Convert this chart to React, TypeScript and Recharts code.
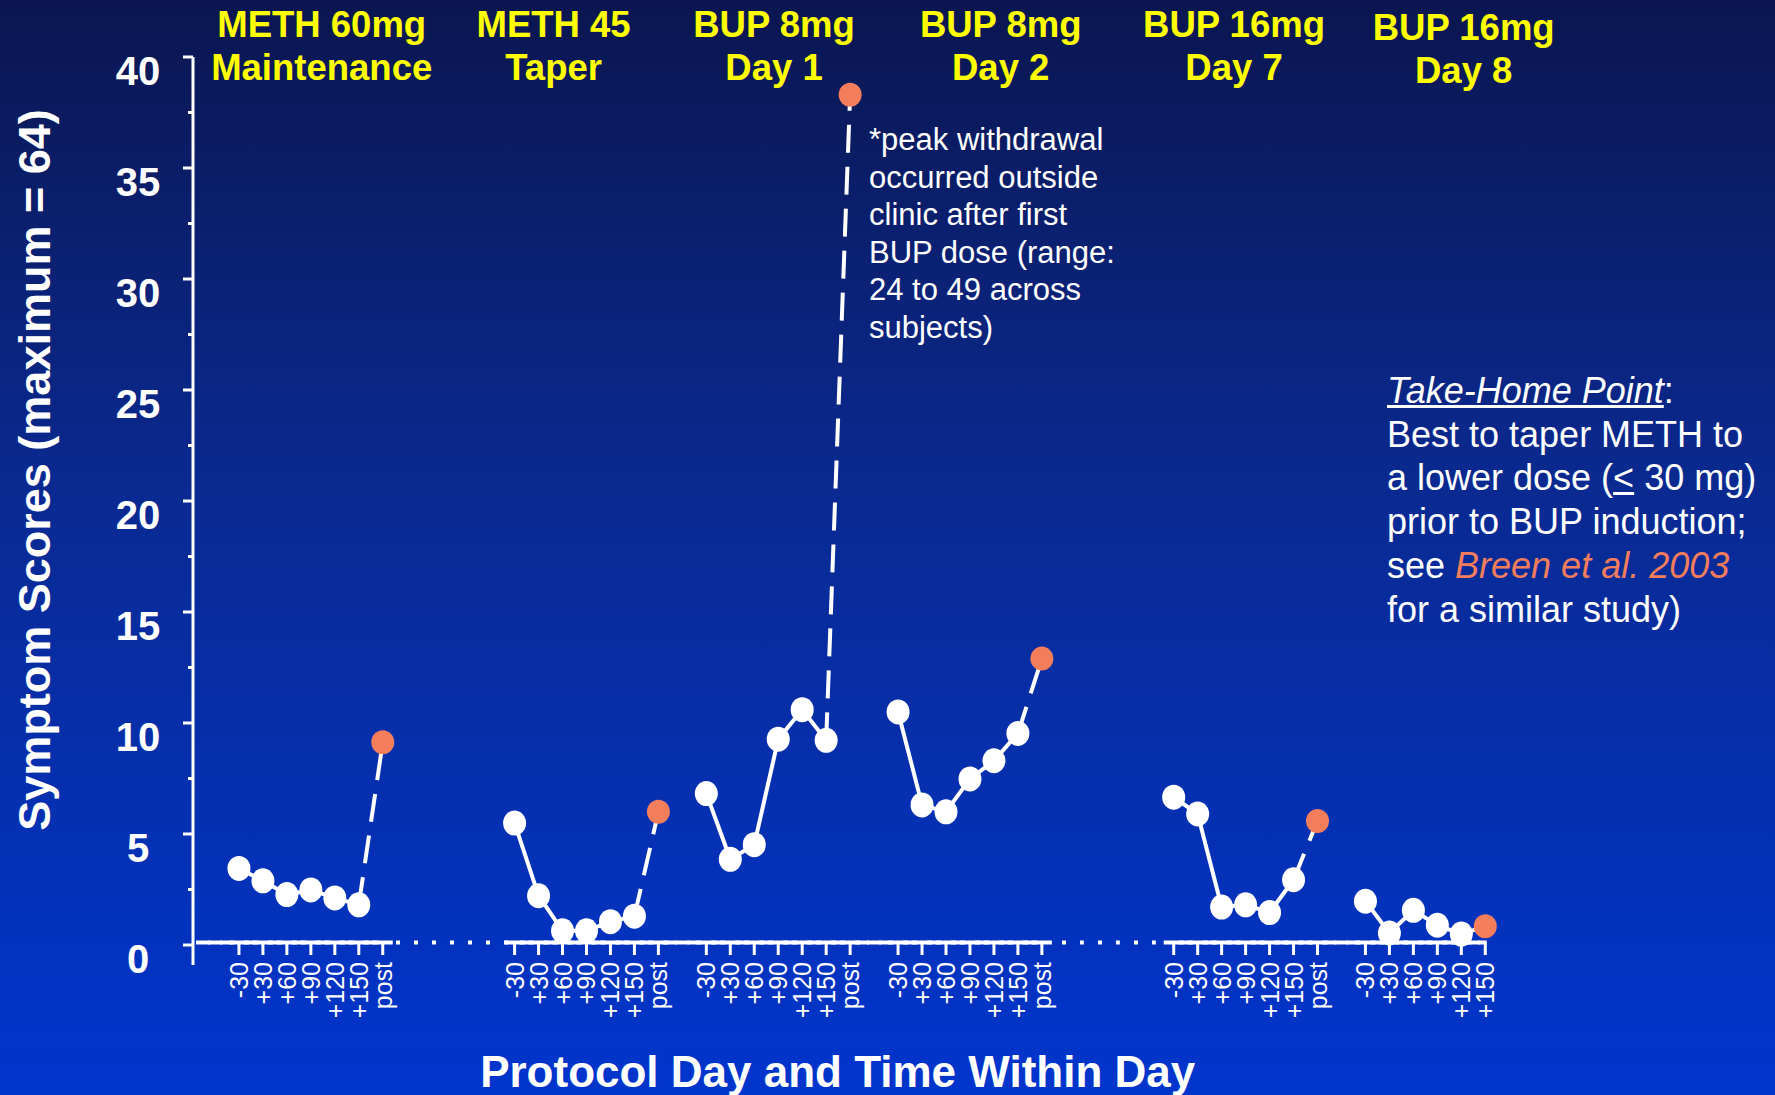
import React from "react"
import { ComposedChart, Line, XAxis, YAxis } from "recharts"

// time points within each clinic day
const timePoints = ["-30", "+30", "+60", "+90", "+120", "+150", "post"]

const sessionHeads = [
  ["METH 60mg", "Maintenance"],
  ["METH 45", "Taper"],
  ["BUP 8mg", "Day 1"],
  ["BUP 8mg", "Day 2"],
  ["BUP 16mg", "Day 7"],
  ["BUP 16mg", "Day 8"],
]

// symptom scores; last value of each day is the peak (orange) point
const meth60 = [3.45, 2.89, 2.27, 2.48, 2.12, 1.81, 9.13]
const meth45 = [5.49, 2.22, 0.64, 0.64, 1.05, 1.3, 6.0]
const bup8Day1 = [6.82, 3.86, 4.52, 9.27, 10.6, 9.22, 38.3]
const bup8Day2 = [10.5, 6.31, 6.0, 7.48, 8.3, 9.53, 12.9]
const bup16Day7 = [6.66, 5.9, 1.71, 1.81, 1.46, 2.94, 5.59]
const bup16Day8 = [1.97, 0.54, 1.56, 0.89, 0.49, 0.84]

const yTicks = [0, 2.5, 5, 7.5, 10, 12.5, 15, 17.5, 20, 22.5, 25, 27.5, 30, 32.5, 35, 37.5, 40]

// blank half-slots between days on the x axis, and whether the axis is dotted there
const gapHalfSlots = [10, 3, 3, 10, 3]
const gapDotted = [true, false, false, true, false]

const W = 1775
const H = 1095
const FONT = "'Liberation Sans', Arial, Helvetica, sans-serif"
const WHITE = "#ffffff"
const CORAL = "#f47e5b"
const YELLOW = "#ffff00"

const PLOT_LEFT = 193
const HSTEP = 11.984
const PAD_L = 10
const LEAD = 3

type Row = Record<string, any>

const sessions = [meth60, meth45, bup8Day1, bup8Day2, bup16Day7, bup16Day8]

const rows: Row[] = []
const addRow = (r: Row) => rows.push({ key: `k${rows.length}`, label: "", base: "solid", ...r })

for (let i = 0; i < LEAD; i++) addRow({})
sessions.forEach((vals, s) => {
  const n = vals.length
  vals.forEach((v, i) => {
    addRow({
      label: timePoints[i],
      base: "mark",
      [`s${s}`]: i < n - 1 ? v : null,
      [`d${s}`]: i >= n - 2 ? v : null,
      peak: i === n - 1 ? v : null,
    })
    if (i < n - 1) addRow({})
  })
  if (s < gapHalfSlots.length) {
    for (let g = 0; g < gapHalfSlots[s]; g++) addRow({ base: gapDotted[s] ? "dot" : "solid" })
  }
})
rows[rows.length - 1].base = "end"
const rowByKey: Record<string, Row> = {}
rows.forEach((r) => (rowByKey[r.key] = r))

const MARGIN_RIGHT = W - (PLOT_LEFT + PAD_L + (rows.length - 1) * HSTEP)

const headCenters = [321.7, 553.6, 774, 1000.7, 1234, 1463.7]
const headDrop = [0, 0, 0, 0, 0, 3]

const XTick = (props: any) => {
  const { x, y, payload } = props
  const row = rowByKey[payload?.value]
  if (!row) return <g />
  const by = y - 2.5
  let piece
  if (row.base === "dot") {
    const x1 = x - HSTEP / 2
    const x2 = x + HSTEP / 2
    // keep the dots on one global 18px grid
    const phase = ((x1 % 18) + 18) % 18
    piece = (
      <line x1={x1} x2={x2} y1={by} y2={by} stroke={WHITE} strokeWidth={4} strokeDasharray="4 14" strokeDashoffset={phase} />
    )
  } else {
    const ext = row.base === "mark" ? 10 : 7
    const x2 = row.base === "end" ? x + 1.5 : x + ext
    piece = <line x1={x - ext} x2={x2} y1={by} y2={by} stroke={WHITE} strokeWidth={4} />
  }
  return (
    <g>
      {piece}
      {row.label !== "" && (
        <>
          <line x1={x} x2={x} y1={by} y2={y + 10} stroke={WHITE} strokeWidth={3} />
          <text
            x={x}
            y={y + 17}
            transform={`rotate(-90 ${x} ${y + 17})`}
            textAnchor="end"
            dy="0.36em"
            fill={WHITE}
            fontSize={25}
            fontFamily={FONT}
          >
            {row.label}
          </text>
        </>
      )}
    </g>
  )
}

const YTick = (props: any) => {
  const { x, y, payload } = props
  const v = payload.value as number
  const major = v % 5 === 0
  return (
    <g>
      <line x1={x - (major ? 10 : 5)} x2={x} y1={y} y2={y} stroke={WHITE} strokeWidth={3} />
      {v === 0 && <line x1={x} x2={x} y1={y} y2={y + 20} stroke={WHITE} strokeWidth={3} />}
      {major && (
        <text x={x - 55} y={y + 28} textAnchor="middle" fill={WHITE} fontSize={40} fontWeight="bold" fontFamily={FONT}>
          {v}
        </text>
      )}
    </g>
  )
}

const whiteDot = (p: any) => {
  if (p.value == null || p.cy == null) return <g key={`w${p.index}`} />
  return <ellipse key={`w${p.index}`} cx={p.cx} cy={p.cy} rx={11.5} ry={12.5} fill={WHITE} />
}

const peakDot = (p: any) => {
  if (p.value == null || p.cy == null) return <g key={`p${p.index}`} />
  return <ellipse key={`p${p.index}`} cx={p.cx} cy={p.cy} rx={11.5} ry={12} fill={CORAL} />
}

export default function App() {
  return (
    <div
      style={{
        position: "absolute",
        left: 0,
        top: 0,
        width: W,
        height: H,
        overflow: "hidden",
        background: "linear-gradient(180deg, #0b1650 0%, #0a2a92 45%, #0035cd 100%)",
        fontFamily: FONT,
      }}
    >
      <ComposedChart width={W} height={H} data={rows} margin={{ top: 57, right: MARGIN_RIGHT, bottom: 0, left: 0 }}>
        <XAxis
          dataKey="key"
          padding={{ left: PAD_L, right: 0 }}
          height={150}
          interval={0}
          axisLine={false}
          tickLine={false}
          tickSize={0}
          tickMargin={0}
          tick={<XTick />}
        />
        <YAxis
          type="number"
          domain={[0, 40]}
          ticks={yTicks}
          interval={0}
          width={PLOT_LEFT}
          axisLine={{ stroke: WHITE, strokeWidth: 3 }}
          tickLine={false}
          tickSize={0}
          tickMargin={0}
          tick={<YTick />}
        />
        {sessions.map((_, s) => (
          <Line
            key={`d${s}`}
            dataKey={`d${s}`}
            stroke={WHITE}
            strokeWidth={4}
            strokeDasharray="28 14"
            connectNulls
            dot={false}
            activeDot={false}
            isAnimationActive={false}
          />
        ))}
        {sessions.map((_, s) => (
          <Line
            key={`s${s}`}
            dataKey={`s${s}`}
            stroke={WHITE}
            strokeWidth={4}
            connectNulls
            dot={whiteDot}
            activeDot={false}
            isAnimationActive={false}
          />
        ))}
        <Line dataKey="peak" stroke="none" dot={peakDot} activeDot={false} isAnimationActive={false} />
      </ComposedChart>

      <svg width={W} height={H} style={{ position: "absolute", left: 0, top: 0, pointerEvents: "none" }}>
        <text
          x={50}
          y={470}
          transform="rotate(-90 50 470)"
          textAnchor="middle"
          fill={WHITE}
          fontSize={45}
          fontWeight="bold"
          fontFamily={FONT}
        >
          Symptom Scores (maximum = 64)
        </text>
        <text x={837.7} y={1087} textAnchor="middle" fill={WHITE} fontSize={44} fontWeight="bold" fontFamily={FONT}>
          Protocol Day and Time Within Day
        </text>
      </svg>

      {sessionHeads.map((h, i) => (
        <div
          key={i}
          style={{
            position: "absolute",
            left: headCenters[i] - 160,
            top: 2.5 + headDrop[i],
            width: 320,
            textAlign: "center",
            color: YELLOW,
            fontSize: 36.5,
            fontWeight: "bold",
            lineHeight: "43px",
            whiteSpace: "nowrap",
          }}
        >
          {h[0]}
          <br />
          {h[1]}
        </div>
      ))}

      <div
        style={{
          position: "absolute",
          left: 869,
          top: 121,
          color: WHITE,
          fontSize: 31,
          lineHeight: "37.5px",
          whiteSpace: "nowrap",
        }}
      >
        *peak withdrawal
        <br />
        occurred outside
        <br />
        clinic after first
        <br />
        BUP dose (range:
        <br />
        24 to 49 across
        <br />
        subjects)
      </div>

      <div
        style={{
          position: "absolute",
          left: 1387,
          top: 369,
          color: WHITE,
          fontSize: 36,
          lineHeight: "43.7px",
          whiteSpace: "nowrap",
        }}
      >
        <span style={{ fontStyle: "italic", textDecoration: "underline" }}>Take-Home Point</span>:
        <br />
        Best to taper METH to
        <br />
        a lower dose (<span style={{ textDecoration: "underline" }}>&lt;</span> 30 mg)
        <br />
        prior to BUP induction;
        <br />
        see <span style={{ fontStyle: "italic", color: CORAL }}>Breen et al. 2003</span>
        <br />
        for a similar study)
      </div>
    </div>
  )
}
